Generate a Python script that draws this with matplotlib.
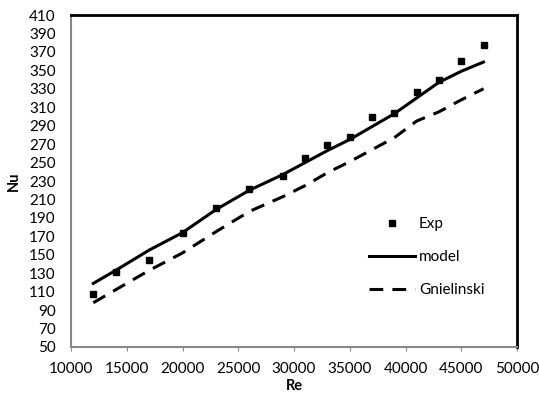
import matplotlib
matplotlib.use("Agg")
import matplotlib.pyplot as plt

plt.rcParams['font.family'] = ['Lato', 'DejaVu Sans']

re_vals = [12000, 14000, 17000, 20000, 23000, 26000, 29000, 31000,
           33000, 35000, 37000, 39000, 41000, 43000, 45000, 47000]
nu_exp = [108, 131, 144, 174, 201, 221, 235, 255,
          269, 278, 299, 304, 327, 340, 360, 377]
nu_model = [119, 133, 155, 174, 199, 220, 237, 250,
            263, 275, 289, 303, 320, 337, 349, 359]
nu_gniel = [98, 112, 133, 152, 175, 197, 213, 225,
            239, 251, 264, 277, 295, 305, 318, 330]

x_ticks = list(range(10000, 50001, 5000))
y_ticks = list(range(50, 411, 20))

fig = plt.figure(figsize=(5.39, 3.96), dpi=100)
ax = fig.add_axes([71/539, 1 - 347/396, (517-71)/539, (347-15)/396])

ax.plot(re_vals, nu_exp, linestyle='none', marker='s', markersize=5,
        color='black', label='Exp')
ax.plot(re_vals, nu_model, color='black', linewidth=2.2, label='model')
ax.plot(re_vals, nu_gniel, color='black', linewidth=2.2,
        dashes=(4.5, 3), label='Gnielinski')

ax.set_xlim(10000, 50000)
ax.set_ylim(50, 410)
ax.set_xticks(x_ticks)
ax.set_yticks(y_ticks)
ax.tick_params(axis='x', length=3, color='#888888', labelsize=11, pad=8)
ax.tick_params(axis='y', length=0, labelsize=11, pad=11)

for side in ('left', 'bottom'):
    ax.spines[side].set_color('#888888')
    ax.spines[side].set_linewidth(1.5)
for side in ('top', 'right'):
    ax.spines[side].set_color('black')
    ax.spines[side].set_linewidth(2.0)

ax.set_xlabel('Re', fontsize=10.5, fontweight='bold', labelpad=2)
ax.set_ylabel('Nu', fontsize=10.5, fontweight='bold', labelpad=6)

ax.legend(frameon=False, loc='upper left', bbox_to_anchor=(0.655, 0.41),
          fontsize=11, handlelength=3.0, labelspacing=1.25, handletextpad=0.25,
          borderaxespad=0)

fig.savefig('out.png', dpi=100)
